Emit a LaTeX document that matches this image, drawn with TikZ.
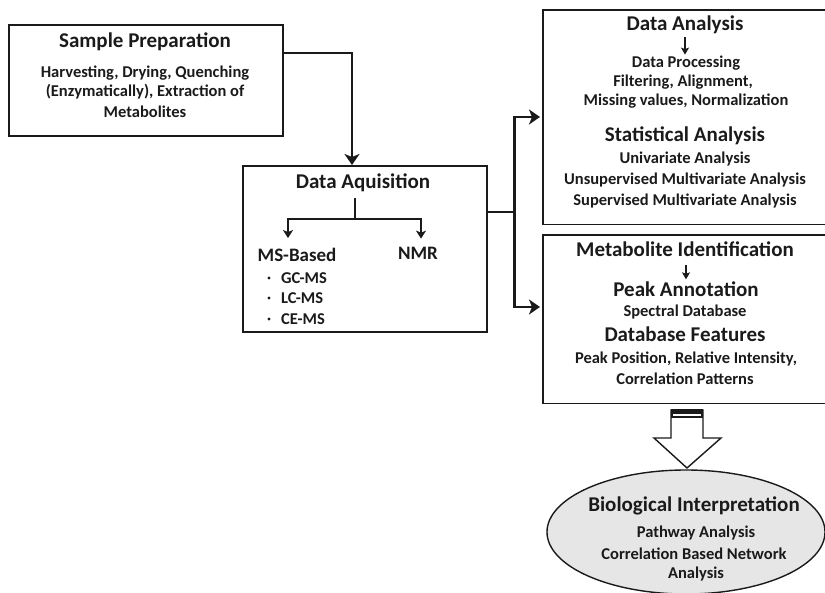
\documentclass[tikz,border=0pt]{standalone}
\usepackage{fontspec}
\setmainfont{Carlito}
\usetikzlibrary{arrows.meta,shapes.geometric,calc}

\definecolor{ink}{HTML}{1A1A1A}
\definecolor{ovalfill}{HTML}{E6E6E6}

\begin{document}
\begin{tikzpicture}[x=1pt,y=-1pt,
  box/.style={draw=ink, line width=1.6pt, inner sep=0pt, anchor=north west},
  openbox/.style={inner sep=0pt, anchor=north west},
  frame/.style={draw=ink, line width=1.6pt},
  ttl/.style={font=\bfseries\fontsize{21}{24}\selectfont, text=ink, inner sep=0pt},
  mid/.style={font=\bfseries\fontsize{19}{22}\selectfont, text=ink, inner sep=0pt},
  sub/.style={font=\bfseries\fontsize{16.5}{19.5}\selectfont, text=ink, inner sep=0pt},
  conn/.style={draw=ink, line width=2.4pt, -{Stealth[length=11pt,width=15pt,inset=3pt]}},
  twig/.style={draw=ink, line width=2pt, -{Stealth[length=8pt,width=10pt,inset=2pt]}},
  tick/.style={draw=ink, line width=1.6pt, -{Stealth[length=7pt,width=8pt,inset=1.5pt]}},
]
\useasboundingbox (0,0) rectangle (825,593);
\begin{scope}
\clip (0,0) rectangle (825,593);

% frames (the two right-hand panels run past the right margin)
\node[box, minimum width=274pt, minimum height=111pt] (prep) at (8,24) {};
\node[box, minimum width=244pt, minimum height=166pt] (acq) at (242,165) {};
\node[openbox, minimum width=287pt, minimum height=214pt] (ana) at (543,10) {};
\node[openbox, minimum width=287pt, minimum height=168pt] (ident) at (543,235) {};
\draw[frame] (ana.north east) -- (ana.north west) -- (ana.south west) -- (ana.south east);
\draw[frame] (ident.north east) -- (ident.north west) -- (ident.south west) -- (ident.south east);

% sample preparation
\node[ttl] (prepT) at (145,42) {Sample Preparation};
\node[sub] (prep1) at (145,73) {Harvesting, Drying, Quenching};
\node[sub] (prep2) at (145,92) {(Enzymatically), Extraction of};
\node[sub] (prep3) at (145,112) {Metabolites};

% data acquisition
\node[ttl] (acqT) at (363,183) {Data Aquisition};
\node[mid] (ms) at (297,255) {MS-Based};
\node[mid] (nmr) at (418,253) {NMR};
\node[sub, anchor=west] (gc) at (281,278) {GC-MS};
\node[sub, anchor=west] (lc) at (281,298) {LC-MS};
\node[sub, anchor=west] (ce) at (281,319) {CE-MS};
\foreach \b in {gc,lc,ce}
  \fill[ink] ($(\b.west)+(-12,0)$) circle (1.6pt);
\coordinate (fork) at (355,219);
\draw[draw=ink, line width=2pt] (355,198) -- (fork);
\draw[twig] (fork) -| ($(ms.north)+(-9,-10)$);
\draw[twig] (fork) -| ($(nmr.north)+(3,-8)$);

% data analysis
\node[ttl] (anaT) at (685,25) {Data Analysis};
\node[sub] (proc) at (686,63) {Data Processing};
\draw[tick] (685,37) -- ($(proc.north)+(-1,-1)$);
\node[sub] (filt) at (683,82) {Filtering, Alignment,};
\node[sub] (miss) at (686,101) {Missing values, Normalization};
\node[ttl] (statT) at (685,136) {Statistical Analysis};
\node[sub] (uni) at (685,159) {Univariate Analysis};
\node[sub] (unsup) at (685,180) {Unsupervised Multivariate Analysis};
\node[sub] (sup) at (685,201) {Supervised Multivariate Analysis};

% metabolite identification
\node[ttl] (idT) at (685,249) {Metabolite Identification};
\node[ttl] (peak) at (686,289) {Peak Annotation};
\draw[tick] (686,265) -- ($(peak.north)+(0,-2)$);
\node[sub] (spec) at (685,312) {Spectral Database};
\node[ttl] (feat) at (685,334) {Database Features};
\node[sub] (pos) at (686,359) {Peak Position, Relative Intensity,};
\node[sub] (corr) at (685,379) {Correlation Patterns};

% connectors
\draw[conn] ($(prep.north east)+(0,29)$) -| ($(acq.north west)+(110,0)$);
\coordinate (split) at ($(acq.north east)+(27,47)$);
\draw[draw=ink, line width=2.4pt] ($(acq.north east)+(0,47)$) -- (split);
\draw[conn] (split) |- ($(ana.north west)+(-3,107)$);
\draw[conn] (split) |- ($(ident.north west)+(-3,72)$);

% hollow block arrow towards the interpretation
\coordinate (tip) at (687,468);
\draw[draw=ink, line width=1.4pt, fill=white, line join=miter]
  (671,410) -- (671,438) -- (654,438) -- (tip) -- (721,438) -- (703,438) -- (703,410) -- cycle;
\fill[ink] (671,409) rectangle (703,418);
\draw[white, line width=1.2pt] (673,415) -- (701,415);

% biological interpretation
\node[ellipse, draw=ink, line width=1.4pt, fill=ovalfill, minimum width=278pt, minimum height=124pt, inner sep=0pt] (bio) at (686,532) {};
\node[ttl] (bioT) at (694,506) {Biological Interpretation};
\node[sub] (bio1) at (696,533) {Pathway Analysis};
\node[sub] (bio2) at (694,554) {Correlation Based Network};
\node[sub] (bio3) at (696,574) {Analysis};
\end{scope}
\end{tikzpicture}
\end{document}
